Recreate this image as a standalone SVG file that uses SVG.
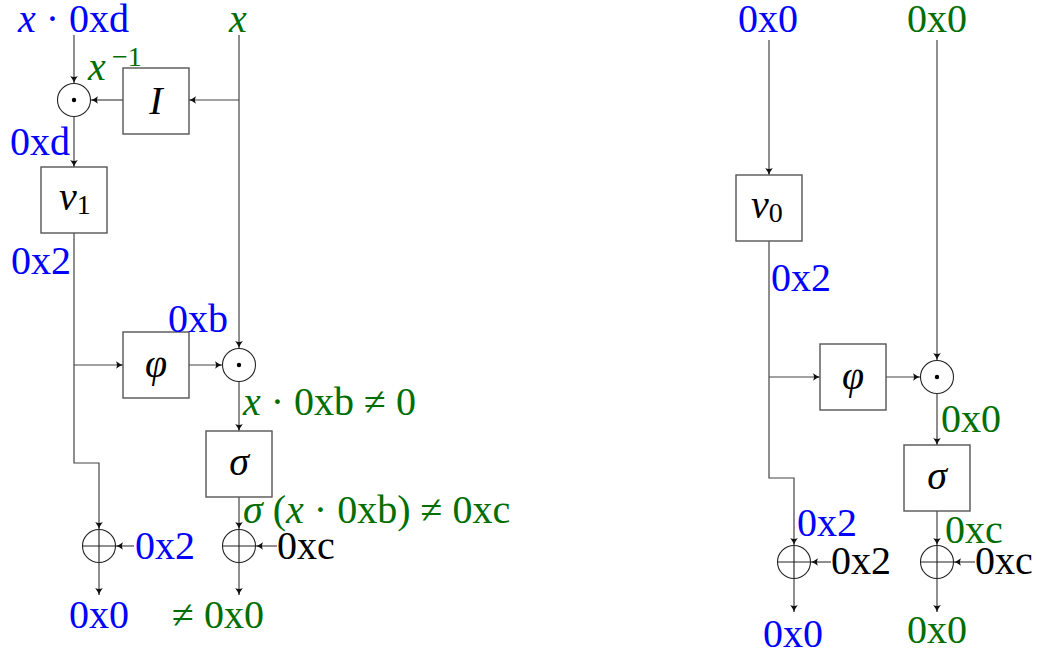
<svg xmlns="http://www.w3.org/2000/svg" width="1043" height="654" viewBox="0 0 1043 654" style="font-family:'Liberation Serif',serif">
<defs>
<marker id="ah" markerUnits="userSpaceOnUse" markerWidth="10" markerHeight="10" viewBox="-8 -5 10 10" refX="0" refY="0" orient="auto">
<path d="M-7,-3.8 Q-3,-0.8 0,0 Q-3,0.8 -7,3.8 Q-5,0 -7,-3.8 Z" fill="#111" stroke="none"/>
</marker>
</defs>

<g id="connectors" fill="none" stroke="#444" stroke-width="1.2">
<line x1="74" y1="35" x2="74" y2="83" marker-end="url(#ah)"/>
<line x1="239" y1="35" x2="239" y2="348" marker-end="url(#ah)"/>
<line x1="239" y1="100" x2="189" y2="100" marker-end="url(#ah)"/>
<line x1="123" y1="100" x2="91" y2="100" marker-end="url(#ah)"/>
<line x1="74" y1="117" x2="74" y2="167" marker-end="url(#ah)"/>
<polyline points="74,233 74,463 99,463 99,529" marker-end="url(#ah)"/>
<line x1="74" y1="365" x2="123" y2="365" marker-end="url(#ah)"/>
<line x1="189" y1="365" x2="222" y2="365" marker-end="url(#ah)"/>
<line x1="239" y1="382" x2="239" y2="431" marker-end="url(#ah)"/>
<line x1="239" y1="497" x2="239" y2="529" marker-end="url(#ah)"/>
<line x1="134" y1="546" x2="116" y2="546" marker-end="url(#ah)"/>
<line x1="277" y1="546" x2="256" y2="546" marker-end="url(#ah)"/>
<line x1="99" y1="563" x2="99" y2="595" marker-end="url(#ah)"/>
<line x1="239" y1="563" x2="239" y2="595" marker-end="url(#ah)"/>
<line x1="769" y1="40" x2="769" y2="175" marker-end="url(#ah)"/>
<line x1="937" y1="40" x2="937" y2="360" marker-end="url(#ah)"/>
<polyline points="769,241 769,478 794,478 794,545" marker-end="url(#ah)"/>
<line x1="769" y1="377" x2="820" y2="377" marker-end="url(#ah)"/>
<line x1="886" y1="377" x2="920" y2="377" marker-end="url(#ah)"/>
<line x1="937" y1="394" x2="937" y2="445" marker-end="url(#ah)"/>
<line x1="937" y1="511" x2="937" y2="545" marker-end="url(#ah)"/>
<line x1="831" y1="562" x2="811" y2="562" marker-end="url(#ah)"/>
<line x1="975" y1="562" x2="954" y2="562" marker-end="url(#ah)"/>
<line x1="794" y1="579" x2="794" y2="612" marker-end="url(#ah)"/>
<line x1="937" y1="579" x2="937" y2="612" marker-end="url(#ah)"/>
</g>

<g id="boxes" fill="#fff" stroke="#555" stroke-width="1.4">
<rect id="box-inv" x="123" y="68" width="66" height="66"/>
<rect id="box-nu1" x="41" y="167" width="66" height="66"/>
<rect id="box-phi1" x="123" y="332" width="66" height="66"/>
<rect id="box-sigma1" x="206" y="431" width="66" height="66"/>
<rect id="box-nu0" x="736" y="175" width="66" height="66"/>
<rect id="box-phi2" x="820" y="344" width="66" height="66"/>
<rect id="box-sigma2" x="904" y="445" width="66" height="66"/>
</g>

<g id="ops" fill="#fff" stroke="#222" stroke-width="1.1">
<g id="node-odot1"><circle cx="74" cy="100" r="16.5"/><circle cx="74" cy="100" r="2.2" fill="#000" stroke="none"/></g>
<g id="node-odot2"><circle cx="239" cy="365" r="16.5"/><circle cx="239" cy="365" r="2.2" fill="#000" stroke="none"/></g>
<g id="node-odot3"><circle cx="937" cy="377" r="16.5"/><circle cx="937" cy="377" r="2.2" fill="#000" stroke="none"/></g>
<g id="node-oplus1"><circle cx="99" cy="546" r="16.5"/><path d="M82.5,546H115.5M99,529.5V562.5"/></g>
<g id="node-oplus2"><circle cx="239" cy="546" r="16.5"/><path d="M222.5,546H255.5M239,529.5V562.5"/></g>
<g id="node-oplus3"><circle cx="794" cy="562" r="16.5"/><path d="M777.5,562H810.5M794,545.5V578.5"/></g>
<g id="node-oplus4"><circle cx="937" cy="562" r="16.5"/><path d="M920.5,562H953.5M937,545.5V578.5"/></g>
</g>

<g id="box-labels" fill="#000">
<text style="font-family:'Liberation Serif',serif;font-size:40px;font-style:italic" text-anchor="middle" x="156" y="114">I</text>
<text style="font-family:'Liberation Serif',serif;font-size:40px" x="59" y="210"><tspan font-style="italic">ν</tspan><tspan font-size="28" dy="4">1</tspan></text>
<text style="font-family:'Liberation Serif',serif;font-size:40px;font-style:italic" text-anchor="middle" x="156" y="377">φ</text>
<text style="font-family:'Liberation Serif',serif;font-size:40px;font-style:italic" text-anchor="middle" x="239" y="475">σ</text>
<text style="font-family:'Liberation Serif',serif;font-size:40px" x="751" y="218"><tspan font-style="italic">ν</tspan><tspan font-size="28" dy="4">0</tspan></text>
<text style="font-family:'Liberation Serif',serif;font-size:40px;font-style:italic" text-anchor="middle" x="853" y="389">φ</text>
<text style="font-family:'Liberation Serif',serif;font-size:40px;font-style:italic" text-anchor="middle" x="937" y="489">σ</text>
</g>

<g id="labels">
<text style="font-family:'Liberation Serif',serif;font-size:40px" fill="#0000ff" x="18" y="32"><tspan font-style="italic">x</tspan> · 0xd</text>
<text style="font-family:'Liberation Serif',serif;font-size:40px;font-style:italic" fill="#006e00" text-anchor="middle" x="238" y="32">x</text>
<text style="font-family:'Liberation Serif',serif;font-size:40px" fill="#006e00" x="88" y="80"><tspan font-style="italic">x</tspan><tspan font-size="28" x="112" y="66">−1</tspan></text>
<text style="font-family:'Liberation Serif',serif;font-size:40px" fill="#0000ff" x="10" y="155">0xd</text>
<text style="font-family:'Liberation Serif',serif;font-size:40px" fill="#0000ff" x="11" y="274">0x2</text>
<text style="font-family:'Liberation Serif',serif;font-size:40px" fill="#0000ff" x="168" y="332">0xb</text>
<text style="font-family:'Liberation Serif',serif;font-size:40px" fill="#006e00" x="243" y="415"><tspan font-style="italic">x</tspan> · 0xb ≠ 0</text>
<text style="font-family:'Liberation Serif',serif;font-size:40px" fill="#006e00" x="243" y="523"><tspan font-style="italic">σ</tspan> (<tspan font-style="italic">x</tspan> · 0xb) ≠ 0xc</text>
<text style="font-family:'Liberation Serif',serif;font-size:40px" fill="#0000ff" x="135" y="559">0x2</text>
<text style="font-family:'Liberation Serif',serif;font-size:40px" fill="#000" x="277" y="559">0xc</text>
<text style="font-family:'Liberation Serif',serif;font-size:40px" fill="#0000ff" x="69" y="628">0x0</text>
<text style="font-family:'Liberation Serif',serif;font-size:40px" fill="#006e00" x="172" y="628">≠ 0x0</text>
<text style="font-family:'Liberation Serif',serif;font-size:40px" fill="#0000ff" x="738" y="32">0x0</text>
<text style="font-family:'Liberation Serif',serif;font-size:40px" fill="#006e00" x="907" y="32">0x0</text>
<text style="font-family:'Liberation Serif',serif;font-size:40px" fill="#0000ff" x="771" y="291">0x2</text>
<text style="font-family:'Liberation Serif',serif;font-size:40px" fill="#006e00" x="941" y="432">0x0</text>
<text style="font-family:'Liberation Serif',serif;font-size:40px" fill="#0000ff" x="797" y="536">0x2</text>
<text style="font-family:'Liberation Serif',serif;font-size:40px" fill="#006e00" x="945" y="543">0xc</text>
<text style="font-family:'Liberation Serif',serif;font-size:40px" fill="#000" x="831" y="574">0x2</text>
<text style="font-family:'Liberation Serif',serif;font-size:40px" fill="#000" x="975" y="574">0xc</text>
<text style="font-family:'Liberation Serif',serif;font-size:40px" fill="#0000ff" x="763" y="647">0x0</text>
<text style="font-family:'Liberation Serif',serif;font-size:40px" fill="#006e00" x="907" y="643">0x0</text>
</g>
</svg>
